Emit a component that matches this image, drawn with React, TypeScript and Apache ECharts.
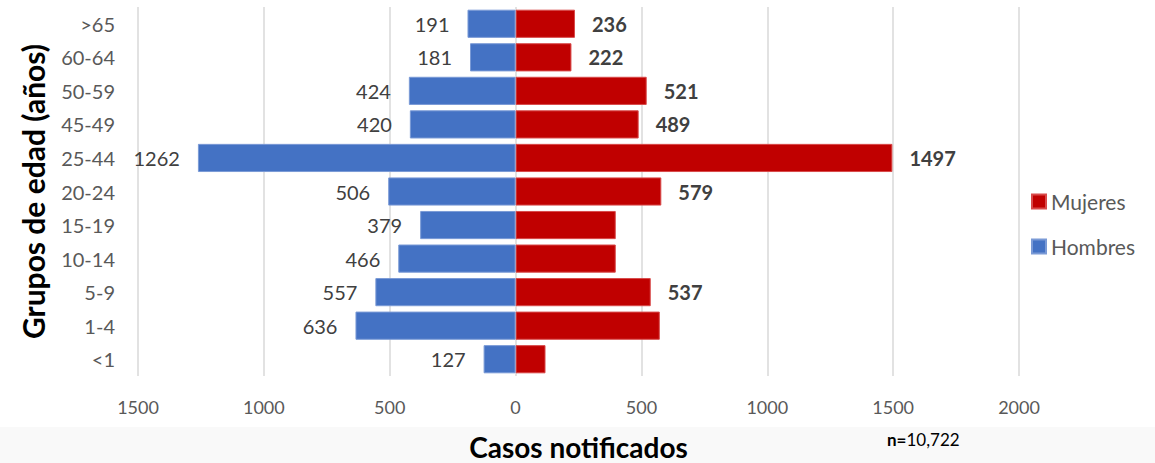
import React, { useEffect, useRef } from "react";
import * as echarts from "echarts";

const categories = ["<1", "1-4", "5-9", "10-14", "15-19", "20-24", "25-44", "45-49", "50-59", "60-64", ">65"];
const hombres = [127, 636, 557, 466, 379, 506, 1262, 420, 424, 181, 191];
const mujeres = [119, 573, 537, 398, 398, 579, 1497, 489, 521, 222, 236];
const mujeresLabelShown = [false, false, true, false, false, true, true, true, true, true, true];
const xTicks = [-1500, -1000, -500, 0, 500, 1000, 1500, 2000];
const totalText = "10,722";

const FONT = "Lato, 'Open Sans', sans-serif";

export default function App() {
  const ref = useRef<HTMLDivElement>(null);
  useEffect(() => {
    if (!ref.current) return;
    const chart = echarts.init(ref.current, undefined, { renderer: "svg" });
    chart.setOption({
      animation: false,
      textStyle: { fontFamily: FONT },
      graphic: [
        {
          type: "rect",
          left: 0,
          top: 427,
          shape: { width: 1155, height: 36 },
          style: { fill: "#f9f9f9" },
          z: -10,
        },
        {
          type: "text",
          left: 887,
          top: 431,
          style: {
            text: "{b|n=}{r|" + totalText + "}",
            rich: {
              b: { fontSize: 17, fontWeight: "bold", fill: "#000", fontFamily: FONT },
              r: { fontSize: 17, fill: "#000", fontFamily: FONT },
            },
          },
        },
      ],
      legend: {
        orient: "vertical",
        left: 1026,
        top: 186,
        itemWidth: 14,
        itemHeight: 14,
        itemGap: 24,
        icon: "rect",
        data: ["Mujeres", "Hombres"],
        textStyle: { fontSize: 21, color: "#595959", fontFamily: FONT },
      },
      grid: { left: 138, right: 136, top: 7, bottom: 87, containLabel: false, outerBoundsMode: "none" },
      xAxis: {
        type: "value",
        min: -1500,
        max: 2000,
        interval: 500,
        name: "Casos notificados",
        nameLocation: "middle",
        nameGap: 57,
        nameTextStyle: { fontSize: 28, fontWeight: "bold", color: "#000", fontFamily: FONT, lineHeight: 28 },
        axisLine: { show: false },
        axisTick: { show: false },
        axisLabel: {
          fontSize: 18,
          color: "#595959",
          margin: 22,
          formatter: (v: number) => (xTicks.includes(v) ? String(Math.abs(v)) : ""),
        },
        splitLine: { show: true, lineStyle: { color: "#d9d9d9", width: 1.5 } },
      },
      yAxis: {
        type: "category",
        data: categories,
        name: "Grupos de edad (años)",
        nameLocation: "middle",
        nameGap: 90,
        nameRotate: 90,
        nameTextStyle: { fontSize: 30, fontWeight: "bold", color: "#000", fontFamily: FONT },
        axisLine: { show: false },
        axisTick: { show: false },
        axisLabel: { fontSize: 20, color: "#595959", margin: 23 },
        splitLine: { show: false },
      },
      series: [
        {
          name: "Mujeres",
          type: "bar",
          barWidth: "84%",
          barGap: "-100%",
          itemStyle: { color: "#c00000", borderColor: "#d84a4a", borderWidth: 1 },
          data: mujeres.map((v, i) => ({
            value: v,
            label: { show: mujeresLabelShown[i] },
          })),
          label: {
            position: "right",
            distance: 17,
            fontSize: 20,
            fontWeight: "bold",
            color: "#404040",
            fontFamily: FONT,
          },
        },
        {
          name: "Hombres",
          type: "bar",
          barWidth: "84%",
          barGap: "-100%",
          itemStyle: { color: "#4472c4", borderColor: "#7a9ad6", borderWidth: 1 },
          data: hombres.map((v) => -v),
          label: {
            show: true,
            position: "left",
            distance: 18,
            fontSize: 20,
            color: "#404040",
            fontFamily: FONT,
            formatter: (p: any) => String(Math.abs(p.value)),
          },
        },
      ],
    });
    return () => chart.dispose();
  }, []);
  return <div ref={ref} style={{ width: 1155, height: 463, position: "absolute", left: 0, top: 0 }} />;
}
